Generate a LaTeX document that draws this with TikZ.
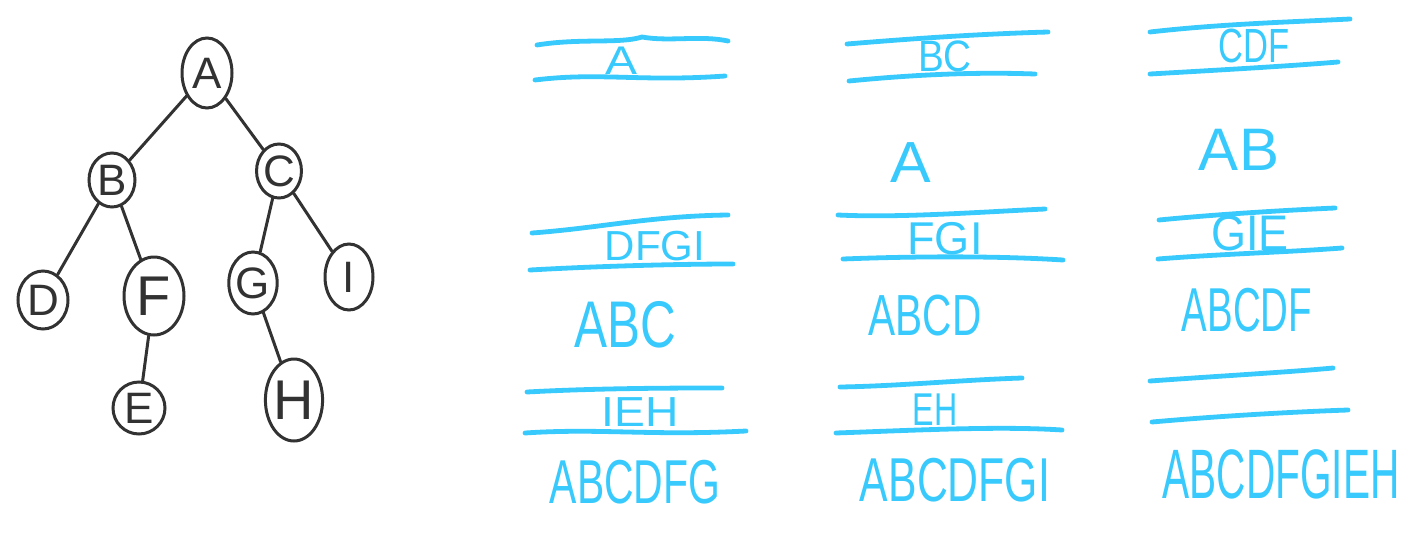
\documentclass[tikz,border=0pt]{standalone}
\usepackage{graphicx}
\usepackage{fontspec}
\setmainfont{Liberation Sans}
\usetikzlibrary{shapes.geometric}
\definecolor{qcyan}{RGB}{56,202,252}
\definecolor{ink}{RGB}{50,50,50}
\newcommand\hw[3]{\scalebox{#1}[1]{\fontsize{#2}{#2}\selectfont #3}}
\begin{document}
\begin{tikzpicture}[x=0.5pt,y=-0.5pt,
  tnode/.style={draw=ink, text=ink, ellipse, line width=1.5pt, inner sep=0pt, font=\fontsize{22}{22}\selectfont},
  tedge/.style={draw=ink, line width=1.5pt, line cap=round},
  qline/.style={draw=qcyan, line width=2.4pt, line cap=round},
  qtext/.style={text=qcyan, inner sep=0pt}]
\useasboundingbox (0,0) rectangle (1424,536);
% tree
\node[tnode, minimum width=25pt, minimum height=35pt] (A) at (207,73) {A};
\node[tnode, minimum width=23pt, minimum height=27pt] (B) at (112,180) {B};
\node[tnode, minimum width=22pt, minimum height=27pt] (C) at (279,171) {C};
\node[tnode, minimum width=25pt, minimum height=29pt] (D) at (43,300) {D};
\node[tnode, minimum width=30pt, minimum height=39pt, font=\fontsize{28}{28}\selectfont] (F) at (154,296) {F};
\node[tnode, minimum width=23pt, minimum height=31pt] (G) at (253,283) {G};
\node[tnode, minimum width=24pt, minimum height=33pt] (I) at (349,277) {I};
\node[tnode, minimum width=26pt, minimum height=26pt] (E) at (139,408) {E};
\node[tnode, minimum width=27pt, minimum height=41pt, font=\fontsize{28}{28}\selectfont] (H) at (294,400) {H};
\draw[tedge] (A) -- (B);
\draw[tedge] (A) -- (C);
\draw[tedge] (B) -- (D);
\draw[tedge] (B) -- (F);
\draw[tedge] (C) -- (G);
\draw[tedge] (C) -- (I);
\draw[tedge] (F) -- (E);
\draw[tedge] (G) -- (H);
% column 1
\draw[qline] (537,45) .. controls (580,38) and (620,44) .. (642,37) .. controls (670,42) and (700,35) .. (728,41);
\draw[qline] (535,80) .. controls (600,72) and (640,82) .. (725,76);
\node[qtext] (q1) at (622,61) {\hw{1.2}{20}{A}};
\draw[qline] (532,233) .. controls (600,228) and (650,216) .. (728,215);
\draw[qline] (530,270) .. controls (600,266) and (680,264) .. (733,264);
\node[qtext] (q2) at (655,246) {\hw{1.0}{21}{DFGI}};
\node[qtext] (v2) at (625,325) {\hw{0.75}{33}{ABC}};
\draw[qline] (527,392) .. controls (600,388) and (680,388) .. (722,388);
\draw[qline] (525,433) .. controls (600,428) and (650,436) .. (746,431);
\node[qtext] (q3) at (640,412) {\hw{1.1}{21}{IEH}};
\node[qtext] (v3) at (635,482) {\hw{0.66}{31}{ABCDFG}};
% column 2
\draw[qline] (847,44) .. controls (920,38) and (980,34) .. (1048,32);
\draw[qline] (849,81) .. controls (920,74) and (980,72) .. (1035,74);
\node[qtext] (q4) at (945,56) {\hw{0.88}{22}{BC}};
\node[qtext] (v4) at (911,163) {\hw{1.05}{29}{A}};
\draw[qline] (838,215) .. controls (900,218) and (980,212) .. (1045,209);
\draw[qline] (843,259) .. controls (920,256) and (1000,256) .. (1063,260);
\node[qtext] (q5) at (945,239) {\hw{0.98}{23}{FGI}};
\node[qtext] (v5) at (925,316) {\hw{0.7}{29}{ABCD}};
\draw[qline] (840,387) .. controls (900,386) and (960,380) .. (1022,378);
\draw[qline] (836,433) .. controls (920,430) and (1000,426) .. (1062,430);
\node[qtext] (q6) at (935,410) {\hw{0.7}{23}{EH}};
\node[qtext] (v6) at (955,480) {\hw{0.69}{31}{ABCDFGI}};
% column 3
\draw[qline] (1150,32) .. controls (1220,24) and (1290,22) .. (1350,19);
\draw[qline] (1150,74) .. controls (1220,70) and (1290,66) .. (1338,62);
\node[qtext] (q7) at (1254,46) {\hw{0.72}{24}{CDF}};
\node[qtext] (v7) at (1239,150) {\hw{1.0}{30}{AB}};
\draw[qline] (1159,220) .. controls (1220,214) and (1290,210) .. (1335,208);
\draw[qline] (1158,259) .. controls (1220,254) and (1290,252) .. (1342,248);
\node[qtext] (q8) at (1250,233) {\hw{0.9}{25}{GIE}};
\node[qtext] (v8) at (1247,310) {\hw{0.62}{31}{ABCDF}};
\draw[qline] (1150,381) .. controls (1220,376) and (1290,372) .. (1333,368);
\draw[qline] (1152,422) .. controls (1220,416) and (1290,412) .. (1348,410);
\node[qtext] (v9) at (1281,474) {\hw{0.58}{35}{ABCDFGIEH}};
\end{tikzpicture}
\end{document}
